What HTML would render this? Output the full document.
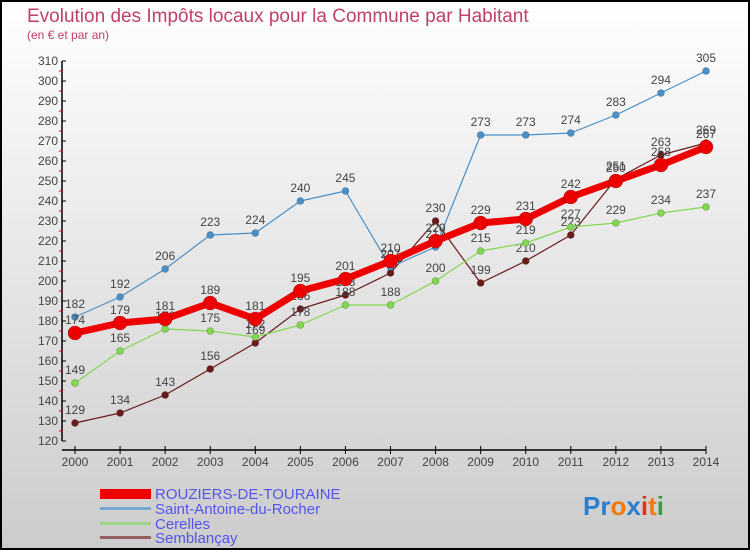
<!DOCTYPE html>
<html><head><meta charset="utf-8"><style>
body{margin:0}
#c{width:750px;height:550px;position:relative;overflow:hidden;font-family:"Liberation Sans",sans-serif}
svg text{font-family:"Liberation Sans",sans-serif}
</style></head><body>
<div id="c">
<svg id="s" width="750" height="550" xmlns="http://www.w3.org/2000/svg">
<defs><linearGradient id="bg" x1="0" y1="0" x2="0" y2="1"><stop offset="0" stop-color="#ffffff"/><stop offset="1" stop-color="#cccccc"/></linearGradient></defs>
<rect x="1" y="1" width="748" height="548" fill="url(#bg)" stroke="#000" stroke-width="2"/>
<text x="27" y="22" font-size="19" fill="#c0406a">Evolution des Impôts locaux pour la Commune par Habitant</text>
<text x="27" y="39" font-size="12" fill="#c0406a">(en € et par an)</text>
<g id="axes"></g><g id="plot"></g>
<g>
<rect x="100" y="489" width="51" height="10" fill="#e00"/>
<text x="155" y="499" font-size="15" fill="#5555ee">ROUZIERS-DE-TOURAINE</text>
<rect x="100" y="507" width="51" height="3" fill="#7aa7cf"/>
<text x="155" y="514" font-size="15" fill="#5555ee">Saint-Antoine-du-Rocher</text>
<rect x="100" y="522" width="51" height="3" fill="#9ed48a"/>
<text x="155" y="529" font-size="15" fill="#5555ee">Cerelles</text>
<rect x="100" y="536" width="51" height="3" fill="#946060"/>
<text x="155" y="543" font-size="15" fill="#5555ee">Semblançay</text>
</g>
<text x="583" y="515" font-size="26" font-weight="bold"><tspan fill="#2a7fd0">Pr</tspan><tspan fill="#f07a10">o</tspan><tspan fill="#2a7fd0">x</tspan><tspan fill="#e03020">i</tspan><tspan fill="#f07a10">t</tspan><tspan fill="#30a040">i</tspan></text>
</svg></div>
<script>
const years=[2000,2001,2002,2003,2004,2005,2006,2007,2008,2009,2010,2011,2012,2013,2014];
const yTicks=[120,130,140,150,160,170,180,190,200,210,220,230,240,250,260,270,280,290,300,310];
const rouziers=[174,179,181,189,181,195,201,210,220,229,231,242,250,258,267];
const saintAntoine=[182,192,206,223,224,240,245,207,217,273,273,274,283,294,305];
const cerelles=[149,165,176,175,172,178,188,188,200,215,219,227,229,234,237];
const semblancay=[129,134,143,156,169,186,193,204,230,199,210,223,251,263,269];
const NS="http://www.w3.org/2000/svg";
const X=i=>75+i*(706-75)/(years.length-1);
const Y=v=>61+(310-v)*2;
function mk(p,t,a){const e=document.createElementNS(NS,t);for(const k in a)e.setAttribute(k,a[k]);p.appendChild(e);return e;}
const ax=document.getElementById('axes');
let l=mk(ax,'line',{x1:62,y1:Y(310),x2:62,y2:Y(120),stroke:'#000','stroke-width':1.5});


l=mk(ax,'line',{x1:62,y1:450,x2:706,y2:450,stroke:'#000','stroke-width':1.5});


yTicks.forEach((v,i)=>{
 mk(ax,'line',{x1:62,y1:Y(v),x2:66,y2:Y(v),stroke:'#000'});
 if(i<yTicks.length-1)mk(ax,'line',{x1:59,y1:Y(v+5),x2:62,y2:Y(v+5),stroke:'#e00'});
 const t=mk(ax,'text',{x:58,y:Y(v)+4,'font-size':12,'text-anchor':'end',fill:'#444'});t.textContent=v;
 
 
});
years.forEach((y,i)=>{
 mk(ax,'line',{x1:X(i),y1:446,x2:X(i),y2:454,stroke:'#000'});
 const t=mk(ax,'text',{x:X(i),y:466,'font-size':12,'text-anchor':'middle',fill:'#444'});t.textContent=y;
 
 
});
const pl=document.getElementById('plot');
function series(data,color,w,r,name){
 const g=mk(pl,'g',{});
 
 
 const p=mk(g,'polyline',{points:data.map((v,i)=>X(i)+','+Y(v)).join(' '),fill:'none',stroke:color,'stroke-width':w,'stroke-linejoin':'round'});
 
 
 data.forEach((v,i)=>{
  const c=mk(g,'circle',{cx:X(i),cy:Y(v),r:r,fill:color,stroke:'rgba(0,0,0,0.3)','stroke-width':0.6});
  
  
  const t=mk(g,'text',{x:X(i),y:Y(v)-9,'font-size':12,'text-anchor':'middle',fill:'#444'});t.textContent=v;
  
  
 });
}
series(semblancay,'#6b1a1a',1.2,3.5,'semblancay');
series(cerelles,'#80d850',1.2,3.5,'cerelles');
series(saintAntoine,'#4a90c8',1.2,3.5,'saint-antoine');
series(rouziers,'#ee0000',7,7,'rouziers');
</script>
</body></html>
